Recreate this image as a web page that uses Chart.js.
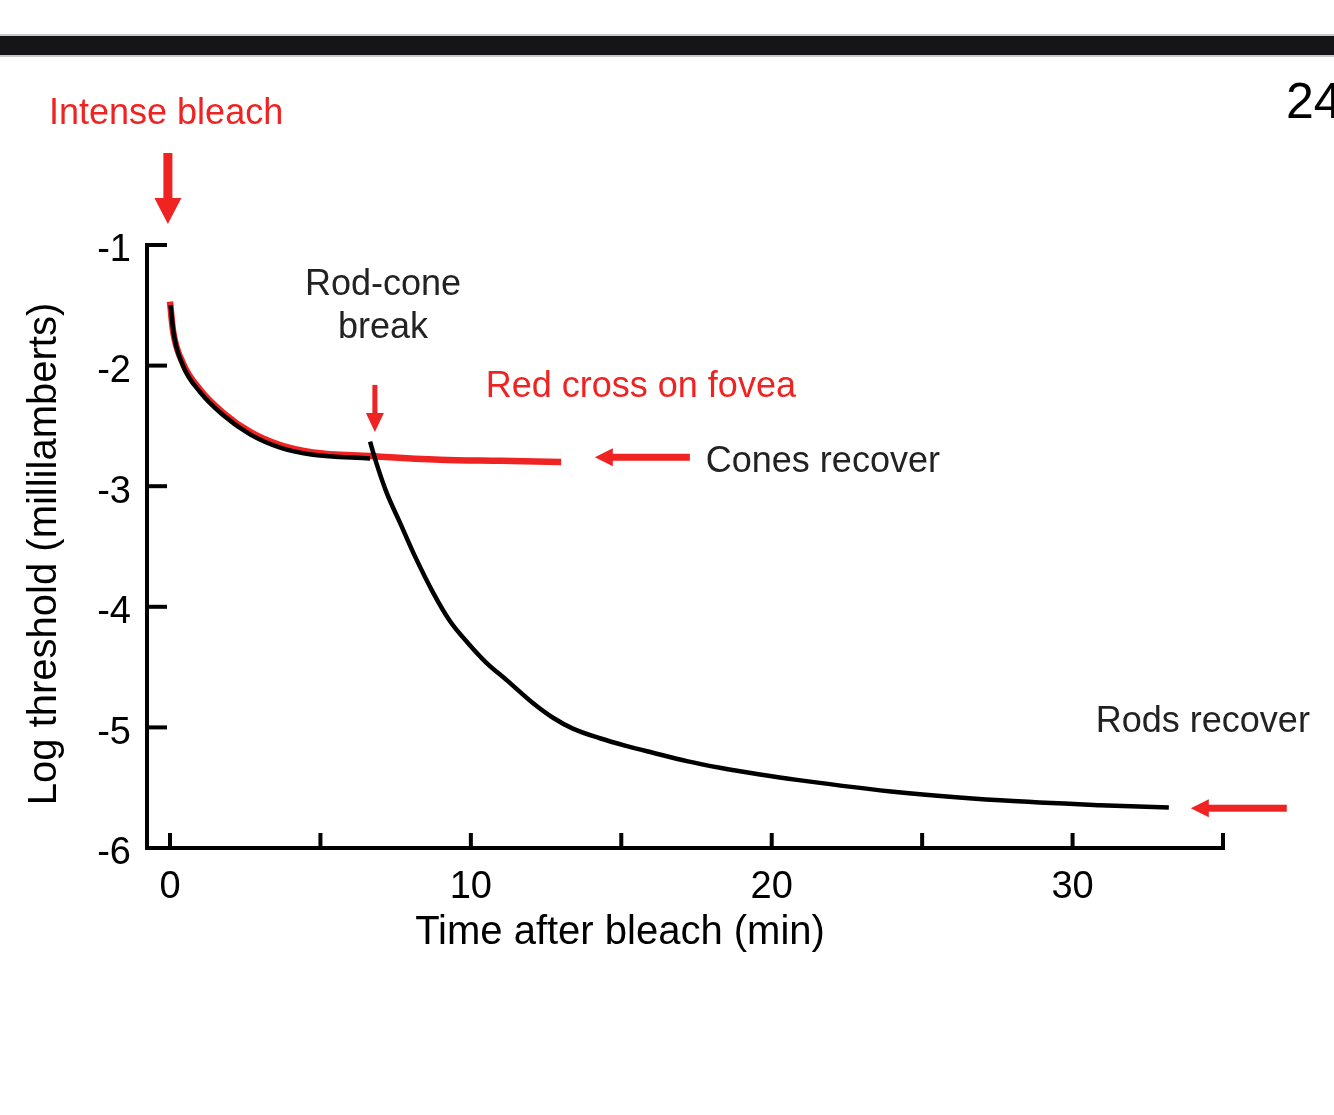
<!DOCTYPE html>
<html>
<head>
<meta charset="utf-8">
<title>Dark adaptation</title>
<script src="https://cdn.jsdelivr.net/npm/chart.js@4.4.0/dist/chart.umd.min.js"></script>
<style>
  html, body { margin: 0; padding: 0; background: #fff; }
  #wrap { position: relative; width: 1334px; height: 1115px; }
</style>
</head>
<body>
<div id="wrap"><canvas id="chart"></canvas></div>
<script>
// --- Data (time in min, log threshold in millilamberts) ---
const conoTiempo = [0, 0.1, 0.43, 1.0, 1.76, 2.66, 3.66, 4.75, 6.65, 8.97, 11.0, 13.0];
const conoUmbral = [-1.47, -1.71, -1.98, -2.20, -2.39, -2.55, -2.66, -2.72, -2.75, -2.78, -2.79, -2.80];

// black curve running just under the red one before the break
const inicioTiempo = [0.02, 0.12, 0.43, 1.0, 1.76, 2.66, 3.66, 4.75, 6.65];
const inicioUmbral = [-1.50, -1.73, -2.0, -2.22, -2.41, -2.57, -2.68, -2.74, -2.77];

const bastonTiempo = [6.65, 6.85, 7.21, 7.64, 8.14, 8.74, 9.31, 9.9, 10.5, 11.2, 12.07, 12.73, 13.39, 14.29, 15.19, 16.05, 17.18, 18.28, 19.61, 20.84, 24.3, 27.6, 30.9, 33.2];
const bastonUmbral = [-2.63, -2.80, -3.06, -3.30, -3.58, -3.88, -4.12, -4.30, -4.46, -4.61, -4.80, -4.92, -5.01, -5.09, -5.155, -5.21, -5.28, -5.335, -5.39, -5.435, -5.54, -5.605, -5.645, -5.665];

const xTicks = [0, 5, 10, 15, 20, 25, 30, 35];
const xEtiquetas = [0, 10, 20, 30];
const yTicks = [-1, -2, -3, -4, -5, -6];

const ROJO = '#f02323';
const FUENTE = '"Liberation Sans", Arial, Helvetica, sans-serif';

const pares = (ts, vs) => ts.map((t, i) => ({ x: t, y: vs[i] }));

// arrows and labels, placed in axis units
const flechas = [
    { x1: -0.07, y1: -0.237, x2: -0.07, y2: -0.826, grosor: 9, punta: 26, ancho: 27 },
    { x1: 6.81, y1: -2.16, x2: 6.81, y2: -2.55, grosor: 5, punta: 19, ancho: 18 },
    { x1: 17.28, y1: -2.76, x2: 14.12, y2: -2.76, grosor: 7, punta: 18, ancho: 18 },
    { x1: 37.12, y1: -5.67, x2: 33.93, y2: -5.67, grosor: 7, punta: 18, ancho: 18 }
];
const textos = [
    { t: 'Intense bleach', x: -0.13, y: 0.086, color: ROJO },
    { t: 'Rod-cone', x: 7.08, y: -1.332, color: '#222' },
    { t: 'break', x: 7.08, y: -1.689, color: '#222' },
    { t: 'Red cross on fovea', x: 15.65, y: -2.178, color: ROJO },
    { t: 'Cones recover', x: 21.70, y: -2.80, color: '#222' },
    { t: 'Rods recover', x: 34.33, y: -4.956, color: '#222' }
];

const dibujarFlecha = (ctx, x1, y1, x2, y2, grosor, punta, ancho) => {
    const ang = Math.atan2(y2 - y1, x2 - x1);
    const largo = Math.hypot(x2 - x1, y2 - y1);
    ctx.save();
    ctx.translate(x1, y1);
    ctx.rotate(ang);
    ctx.fillRect(0, -grosor / 2, largo - punta + 1, grosor);
    ctx.beginPath();
    ctx.moveTo(largo, 0);
    ctx.lineTo(largo - punta, -ancho / 2);
    ctx.lineTo(largo - punta, ancho / 2);
    ctx.closePath();
    ctx.fill();
    ctx.restore();
};

const anotaciones = {
    id: 'anotaciones',
    beforeDraw(chart) {
        const { ctx, width } = chart;
        ctx.save();
        // slide header bar
        ctx.fillStyle = '#c8c8c8';
        ctx.fillRect(0, 34, width, 23);
        ctx.fillStyle = '#151517';
        ctx.fillRect(0, 36, width, 19);
        // page number
        ctx.fillStyle = '#000';
        ctx.font = '50px ' + FUENTE;
        ctx.textAlign = 'left';
        ctx.textBaseline = 'alphabetic';
        ctx.fillText('24', 1286, 118);
        ctx.restore();
    },
    afterDatasetsDraw(chart) {
        const { ctx, scales: { x, y } } = chart;
        ctx.save();
        // inward tick marks
        ctx.strokeStyle = '#000';
        ctx.lineWidth = 4;
        xTicks.forEach(v => {
            const px = x.getPixelForValue(v);
            ctx.beginPath();
            ctx.moveTo(px, y.bottom + 2);
            ctx.lineTo(px, y.bottom - 15);
            ctx.stroke();
        });
        yTicks.slice(0, -1).forEach(v => {
            const py = y.getPixelForValue(v);
            ctx.beginPath();
            ctx.moveTo(x.left - 2, py);
            ctx.lineTo(x.left + 20, py);
            ctx.stroke();
        });

        // axis titles
        ctx.fillStyle = '#000';
        ctx.font = '40px ' + FUENTE;
        ctx.textAlign = 'center';
        ctx.textBaseline = 'middle';
        ctx.fillText('Time after bleach (min)', 620, 933);
        ctx.save();
        ctx.translate(45, 554);
        ctx.rotate(-Math.PI / 2);
        ctx.fillText('Log threshold (millilamberts)', 0, 0);
        ctx.restore();

        ctx.fillStyle = ROJO;
        flechas.forEach(f => {
            dibujarFlecha(ctx, x.getPixelForValue(f.x1), y.getPixelForValue(f.y1),
                x.getPixelForValue(f.x2), y.getPixelForValue(f.y2), f.grosor, f.punta, f.ancho);
        });

        ctx.font = '36px ' + FUENTE;
        textos.forEach(tx => {
            ctx.fillStyle = tx.color;
            ctx.fillText(tx.t, x.getPixelForValue(tx.x), y.getPixelForValue(tx.y));
        });
        ctx.restore();
    }
};

new Chart(document.getElementById('chart'), {
    type: 'line',
    data: {
        datasets: [
            {
                label: 'Full adaptation (early)',
                data: pares(inicioTiempo, inicioUmbral),
                borderColor: '#000',
                borderWidth: 4.5
            },
            {
                label: 'Rods',
                data: pares(bastonTiempo, bastonUmbral),
                borderColor: '#000',
                borderWidth: 4.5
            },
            {
                label: 'Red cross on fovea',
                data: pares(conoTiempo, conoUmbral),
                borderColor: ROJO,
                borderWidth: 6.5
            }
        ]
    },
    options: {
        responsive: true,
        maintainAspectRatio: false,
        animation: false,
        layout: { padding: { top: 245, right: 111, bottom: 0, left: 0 } },
        elements: {
            point: { radius: 0 },
            line: { cubicInterpolationMode: 'monotone', borderCapStyle: 'butt', fill: false }
        },
        plugins: {
            legend: { display: false },
            tooltip: { enabled: false }
        },
        scales: {
            x: {
                type: 'linear',
                min: -0.7645,
                max: 35,
                afterFit: s => { s.height = 267; },
                afterBuildTicks: s => { s.ticks = xTicks.map(v => ({ value: v })); },
                grid: { display: false, drawTicks: false },
                border: { display: true, color: '#000', width: 4 },
                ticks: {
                    padding: 17,
                    color: '#000',
                    autoSkip: false,
                    maxRotation: 0,
                    font: { family: FUENTE, size: 38 },
                    callback: v => xEtiquetas.includes(v) ? String(v) : ''
                }
            },
            y: {
                min: -6,
                max: -1,
                afterFit: s => { s.width = 147; },
                afterBuildTicks: s => { s.ticks = yTicks.map(v => ({ value: v })); },
                grid: { display: false, drawTicks: false },
                border: { display: true, color: '#000', width: 4 },
                ticks: {
                    padding: 16,
                    labelOffset: 6,
                    color: '#000',
                    font: { family: FUENTE, size: 38 },
                    callback: v => String(v)
                }
            }
        }
    },
    plugins: [anotaciones]
});
</script>
</body>
</html>
